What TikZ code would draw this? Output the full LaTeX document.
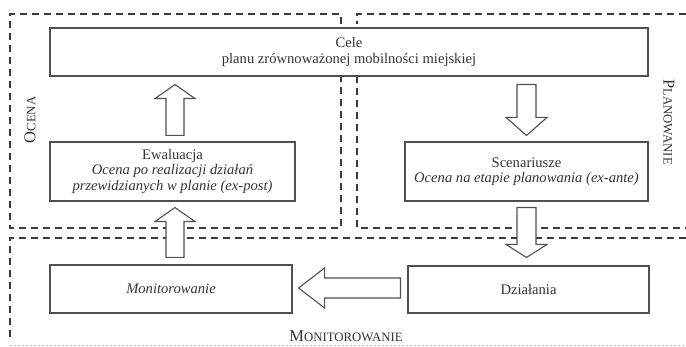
\documentclass[tikz,border=0pt]{standalone}
\usepackage{fontspec}
\setmainfont{Liberation Serif}
\usetikzlibrary{calc}
\definecolor{txt}{HTML}{333333}
\definecolor{boxc}{HTML}{505050}
\definecolor{dashc}{HTML}{3A3A3A}
\tikzset{
  box/.style={draw=boxc, line width=1.1pt, text=txt, align=center, inner sep=0pt,
    font=\fontsize{14.6}{15.5}\selectfont},
  region/.style={draw=dashc, line width=1.4pt, dash pattern=on 7pt off 5pt},
  faint/.style={draw=black!25, line width=0.8pt, dash pattern=on 2pt off 2pt},
  blk/.style={draw=boxc, line width=1.1pt, fill=white, line join=miter},
  lbl/.style={text=txt, inner sep=0pt}
}
\newcommand\bigsc[2]{{\fontsize{16.5}{18}\selectfont #1\fontsize{12.8}{14}\selectfont #2}}
\begin{document}
\begin{tikzpicture}[x=1pt,y=-1pt]
\useasboundingbox (0,0) rectangle (686,347);
% regions
\draw[region] (341,24) -- (341,14) -- (10,14) -- (10,228) -- (341,228) -- (341,76);
\draw[region] (686,14) -- (357,14) -- (357,24);
\draw[region] (357,76) -- (357,228) -- (686,228);
\draw[region] (686,238) -- (10,238) -- (10,340);
\draw[faint] (10,345) -- (686,345);
% boxes
\node[box, minimum width=598pt, minimum height=48pt] (cele) at (349,52)
  {Cele\\planu zrównoważonej mobilności miejskiej};
\node[box, minimum width=245pt, minimum height=59pt] (ewal) at (172.5,171.5)
  {Ewaluacja\\\textit{Ocena po realizacji działań}\\\textit{przewidzianych w planie (ex-post)}};
\node[box, minimum width=243pt, minimum height=59pt] (scen) at (526.5,171.5)
  {Scenariusze\\\textit{Ocena na etapie planowania (ex-ante)}};
\node[box, minimum width=242pt, minimum height=48pt] (monit) at (171,289)
  {\textit{Monitorowanie}};
\node[box, minimum width=241pt, minimum height=47pt] (dzial) at (528.5,289.5)
  {Działania};
% region labels
\node[lbl, rotate=90] (locena) at (30,120) {\bigsc{O}{CENA}};
\node[lbl, rotate=-90] (lplan) at (669,122) {\bigsc{P}{LANOWANIE}};
\node[lbl] (lmon) at (346,336) {\bigsc{M}{ONITOROWANIE}};
% block arrows (coordinates from node anchors)
\coordinate (a1b) at ($(ewal.north)+(2.5,-6)$);
\coordinate (a1t) at ($(a1b |- cele.south)+(0,8)$);
\draw[blk] ($(a1b)+(-9,0)$) -- ($(a1t)+(-9,14)$) -- ($(a1t)+(-20,14)$) -- (a1t)
  -- ($(a1t)+(20,14)$) -- ($(a1t)+(9,14)$) -- ($(a1b)+(9,0)$) -- cycle;
\coordinate (a2b) at ($(monit.north)+(4,-7)$);
\coordinate (a2t) at ($(a2b |- ewal.south)+(0,6)$);
\draw[blk] ($(a2b)+(-9,0)$) -- ($(a2t)+(-9,14)$) -- ($(a2t)+(-20,14)$) -- (a2t)
  -- ($(a2t)+(20,14)$) -- ($(a2t)+(9,14)$) -- ($(a2b)+(9,0)$) -- cycle;
\coordinate (a3t) at ($(cele.south)+(177.5,8)$);
\coordinate (a3b) at ($(a3t |- scen.north)+(0,-6)$);
\draw[blk] ($(a3t)+(-9.5,0)$) -- ($(a3b)+(-9.5,-18)$) -- ($(a3b)+(-20.5,-18)$) -- (a3b)
  -- ($(a3b)+(20.5,-18)$) -- ($(a3b)+(9.5,-18)$) -- ($(a3t)+(9.5,0)$) -- cycle;
\coordinate (a4t) at ($(scen.south)+(0,6)$);
\coordinate (a4b) at ($(a4t |- dzial.north)+(0,-8)$);
\draw[blk] ($(a4t)+(-9.5,0)$) -- ($(a4b)+(-9.5,-13)$) -- ($(a4b)+(-20.5,-13)$) -- (a4b)
  -- ($(a4b)+(20.5,-13)$) -- ($(a4b)+(9.5,-13)$) -- ($(a4t)+(9.5,0)$) -- cycle;
\coordinate (a5r) at ($(dzial.west)+(-7,-1.5)$);
\coordinate (a5l) at ($(monit.east)+(6,-1)$);
\draw[blk] ($(a5r)+(0,-10)$) -- ($(a5l)+(26,-10)$) -- ($(a5l)+(26,-20)$) -- (a5l)
  -- ($(a5l)+(26,20)$) -- ($(a5l)+(26,10)$) -- ($(a5r)+(0,10)$) -- cycle;
\end{tikzpicture}
\end{document}
